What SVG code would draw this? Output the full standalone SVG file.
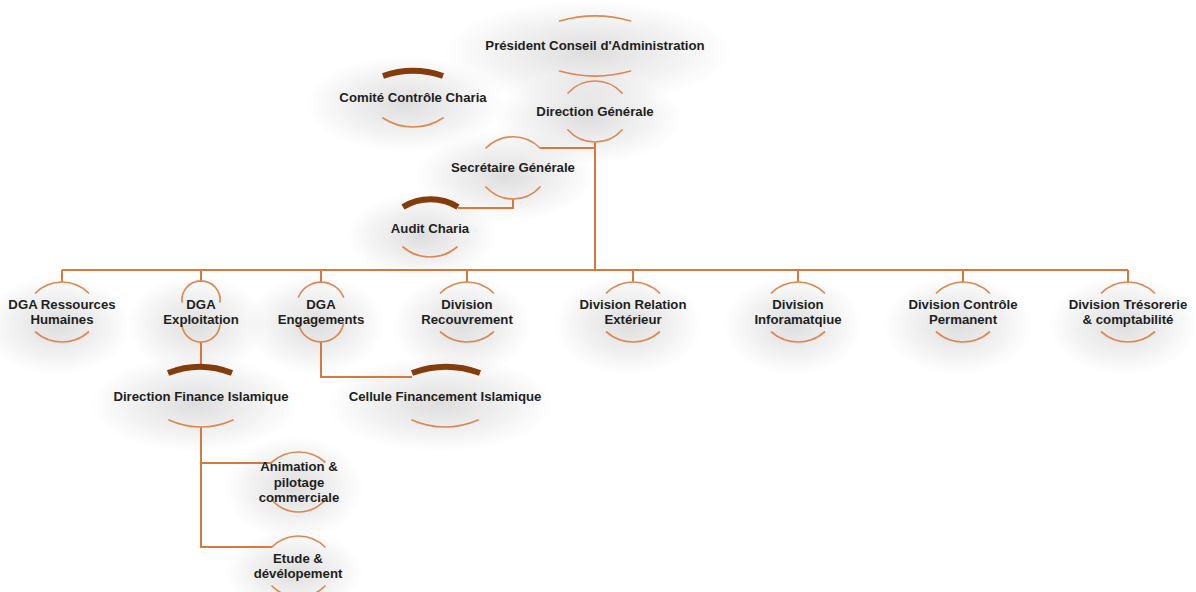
<svg xmlns="http://www.w3.org/2000/svg" xmlns:xlink="http://www.w3.org/1999/xlink" width="1196" height="592" viewBox="0 0 1196 592">
<style>
.arc{fill:none;stroke:#DC8853;stroke-width:1.7;stroke-linecap:round}
.thick{fill:none;stroke:#843C0C;stroke-width:6}
.con{fill:none;stroke:#D5793F;stroke-width:2}
.t{font-family:"Liberation Sans",Arial,sans-serif;font-weight:bold;font-size:13.2px;fill:#1f1f1f;text-anchor:middle}
.sh{fill:url(#shg)}
</style>
<defs>
<radialGradient id="shg" cx="0.5" cy="0.5" r="0.5">
<stop offset="0" stop-color="#000" stop-opacity="0.13"/>
<stop offset="0.55" stop-color="#000" stop-opacity="0.06"/>
<stop offset="1" stop-color="#000" stop-opacity="0"/>
</radialGradient>
<path id="rowTop" class="arc" d="M -26.5 293 A 37.4 37.4 0 0 1 26.5 293"/>
<path id="rowBot" class="arc" d="M -26.5 332 A 40.1 40.1 0 0 0 26.5 332"/>
</defs>
<rect width="1196" height="592" fill="#ffffff"/>
<g id="shadows">
<ellipse class="sh" cx="588" cy="52" rx="145" ry="52"/>
<ellipse class="sh" cx="588" cy="118" rx="95" ry="46"/>
<ellipse class="sh" cx="405" cy="104" rx="100" ry="48"/>
<ellipse class="sh" cx="505" cy="176" rx="90" ry="46"/>
<ellipse class="sh" cx="422" cy="236" rx="75" ry="44"/>
<ellipse class="sh" cx="57" cy="325" rx="75" ry="50"/>
<ellipse class="sh" cx="196" cy="325" rx="70" ry="50"/>
<ellipse class="sh" cx="316" cy="325" rx="70" ry="50"/>
<ellipse class="sh" cx="462" cy="325" rx="70" ry="50"/>
<ellipse class="sh" cx="628" cy="325" rx="75" ry="50"/>
<ellipse class="sh" cx="793" cy="325" rx="70" ry="50"/>
<ellipse class="sh" cx="958" cy="325" rx="75" ry="50"/>
<ellipse class="sh" cx="1123" cy="325" rx="75" ry="50"/>
<ellipse class="sh" cx="195" cy="404" rx="105" ry="48"/>
<ellipse class="sh" cx="440" cy="404" rx="115" ry="48"/>
<ellipse class="sh" cx="294" cy="488" rx="70" ry="52"/>
<ellipse class="sh" cx="294" cy="572" rx="70" ry="42"/>
</g>
<g id="connectors">
<path class="con" d="M 595 142 V 270"/>
<path class="con" d="M 540 148 H 595"/>
<path class="con" d="M 513 199 V 208 H 458"/>
<path class="con" d="M 62 270 H 1128"/>
<path class="con" d="M 62 270 V 282 M 201 270 V 282 M 321 270 V 282 M 467 270 V 282 M 633 270 V 282 M 798 270 V 282 M 963 270 V 282 M 1128 270 V 282"/>
<path class="con" d="M 201 342 V 368"/>
<path class="con" d="M 321 342 V 377 H 412"/>
<path class="con" d="M 201 427 V 547 H 272 M 201 463 H 272"/>
</g>
<g id="president">
<path class="arc" d="M 559.5 21 A 128.5 128.5 0 0 1 630.5 21"/>
<path class="arc" d="M 559.5 71 A 128.5 128.5 0 0 0 630.5 71"/>
<text class="t" x="595" y="50">Président Conseil d'Administration</text>
</g>
<g id="direction-generale">
<path class="arc" d="M 568 93 A 36.4 36.4 0 0 1 622 93"/>
<path class="arc" d="M 568 130 A 36.4 36.4 0 0 0 622 130"/>
<text class="t" x="595" y="116">Direction Générale</text>
</g>
<g id="comite">
<path class="thick" d="M 383 76 A 92.5 92.5 0 0 1 443 76"/>
<path class="arc" d="M 383 118 A 54.5 54.5 0 0 0 443 118"/>
<text class="t" x="413" y="102">Comité Contrôle Charia</text>
</g>
<g id="secretaire">
<path class="arc" d="M 486 148 A 38 38 0 0 1 540 148"/>
<path class="arc" d="M 486 187 A 36.4 36.4 0 0 0 540 187"/>
<text class="t" x="513" y="172">Secrétaire Générale</text>
</g>
<g id="audit">
<path class="thick" d="M 403 207 A 53 53 0 0 1 458 207"/>
<path class="arc" d="M 403 247 A 41.5 41.5 0 0 0 457 247"/>
<text class="t" x="430" y="233">Audit Charia</text>
</g>
<g id="dga-rh">
<use href="#rowTop" x="62"/><use href="#rowBot" x="62"/>
<text class="t" x="62" y="309">DGA Ressources<tspan x="62" dy="15.3">Humaines</tspan></text>
</g>
<g id="dga-exploitation">
<path class="arc" d="M 182 302 A 19.1 19.1 0 1 1 220 302"/>
<path class="arc" d="M 182 325 A 19.1 19.1 0 0 0 220 325"/>
<text class="t" x="201" y="309">DGA<tspan x="201" dy="15.3">Exploitation</tspan></text>
</g>
<g id="dga-engagements">
<path class="arc" d="M 298.5 297 A 24.4 24.4 0 0 1 343.5 297"/>
<path class="arc" d="M 298.5 324 A 23.1 23.1 0 0 0 343.5 324"/>
<text class="t" x="321" y="309">DGA<tspan x="321" dy="15.3">Engagements</tspan></text>
</g>
<g id="division-recouvrement">
<use href="#rowTop" x="467"/><use href="#rowBot" x="467"/>
<text class="t" x="467" y="309">Division<tspan x="467" dy="15.3">Recouvrement</tspan></text>
</g>
<g id="division-relation">
<use href="#rowTop" x="633"/><use href="#rowBot" x="633"/>
<text class="t" x="633" y="309">Division Relation<tspan x="633" dy="15.3">Extérieur</tspan></text>
</g>
<g id="division-info">
<use href="#rowTop" x="798"/><use href="#rowBot" x="798"/>
<text class="t" x="798" y="309">Division<tspan x="798" dy="15.3">Inforamatqiue</tspan></text>
</g>
<g id="division-controle">
<use href="#rowTop" x="963"/><use href="#rowBot" x="963"/>
<text class="t" x="963" y="309">Division Contrôle<tspan x="963" dy="15.3">Permanent</tspan></text>
</g>
<g id="division-tresorerie">
<use href="#rowTop" x="1128"/><use href="#rowBot" x="1128"/>
<text class="t" x="1128" y="309">Division Trésorerie<tspan x="1128" dy="15.3">&amp; comptabilité</tspan></text>
</g>
<g id="direction-finance">
<path class="thick" d="M 168 373 A 88 88 0 0 1 232 373"/>
<path class="arc" d="M 169 420 A 76.6 76.6 0 0 0 233 420"/>
<text class="t" x="201" y="401">Direction Finance Islamique</text>
</g>
<g id="cellule-financement">
<path class="thick" d="M 412 373 A 99 99 0 0 1 480 373"/>
<path class="arc" d="M 412 420 A 81.3 81.3 0 0 0 478 420"/>
<text class="t" x="445" y="401">Cellule Financement Islamique</text>
</g>
<g id="animation">
<path class="arc" d="M 272 462 A 40.1 40.1 0 0 1 325 462"/>
<path class="arc" d="M 272 500 A 35.3 35.3 0 0 0 325 500"/>
<text class="t" x="299" y="471">Animation &amp;<tspan x="299" dy="15.5">pilotage</tspan><tspan x="299" dy="15.5">commerciale</tspan></text>
</g>
<g id="etude">
<path class="arc" d="M 272 547 A 37.4 37.4 0 0 1 325 547"/>
<path class="arc" d="M 272 586 A 37.4 37.4 0 0 0 325 586"/>
<text class="t" x="298" y="563">Etude &amp;<tspan x="298" dy="15.3">dévélopement</tspan></text>
</g>
</svg>
